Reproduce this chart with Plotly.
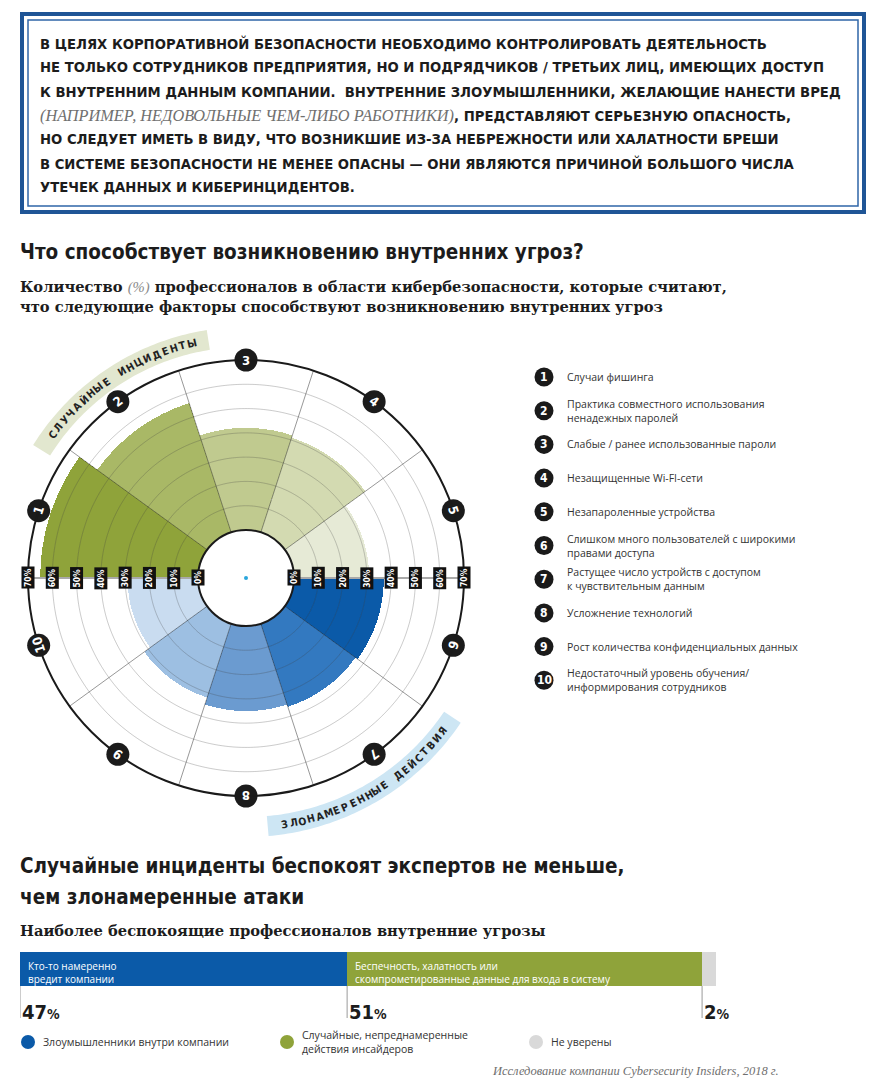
import numpy as np
import plotly.graph_objects as go

# page has an 8px body margin, so the figure is shifted by OFF px
OFF = 8
W, H = 874 - OFF, 1080 - OFF


def X(px):
    return (px - OFF) / W


def Y(py):
    return 1 - (py - OFF) / H


# ---------------- data ----------------
factor_ids = [1, 2, 3, 4, 5, 6, 7, 8, 9, 10]
factor_values = [65, 56, 42, 41, 31, 37, 36, 35, 32, 29]
factor_labels = [
    "Случаи фишинга",
    "Практика совместного использования<br>ненадежных паролей",
    "Слабые / ранее использованные пароли",
    "Незащищенные Wi-FI-сети",
    "Незапароленные устройства",
    "Слишком много пользователей с широкими<br>правами доступа",
    "Растущее число устройств с доступом<br>к чувствительным данным",
    "Усложнение технологий",
    "Рост количества конфиденциальных данных",
    "Недостаточный уровень обучения/<br>информирования сотрудников",
]
factor_colors = ["#8fa33a", "#a9b866", "#c0ca8f", "#d3dab1", "#e6ead6",
                 "#0b5aa8", "#3379c0", "#6b9bd0", "#9dbfe2", "#c9dcf0"]
tick_values = [0, 10, 20, 30, 40, 50, 60, 70]

threat_names = ["Злоумышленники внутри компании",
                "Случайные, непреднамеренные<br>действия инсайдеров",
                "Не уверены"]
threat_values = [47, 51, 2]
threat_bar_text = ["Кто-то намеренно<br>вредит компании",
                   "Беспечность, халатность или<br>скомпрометированные данные для входа в систему",
                   ""]
threat_colors = ["#0b5aa8", "#8fa33a", "#d9d9d9"]

box_lines = [
    "В ЦЕЛЯХ КОРПОРАТИВНОЙ БЕЗОПАСНОСТИ НЕОБХОДИМО КОНТРОЛИРОВАТЬ ДЕЯТЕЛЬНОСТЬ",
    "НЕ ТОЛЬКО СОТРУДНИКОВ ПРЕДПРИЯТИЯ, НО И ПОДРЯДЧИКОВ / ТРЕТЬИХ ЛИЦ, ИМЕЮЩИХ ДОСТУП",
    "К ВНУТРЕННИМ ДАННЫМ КОМПАНИИ.  ВНУТРЕННИЕ ЗЛОУМЫШЛЕННИКИ, ЖЕЛАЮЩИЕ НАНЕСТИ ВРЕД",
    "§(НАПРИМЕР, НЕДОВОЛЬНЫЕ ЧЕМ-ЛИБО РАБОТНИКИ)§, ПРЕДСТАВЛЯЮТ СЕРЬЕЗНУЮ ОПАСНОСТЬ,",
    "НО СЛЕДУЕТ ИМЕТЬ В ВИДУ, ЧТО ВОЗНИКШИЕ ИЗ-ЗА НЕБРЕЖНОСТИ ИЛИ ХАЛАТНОСТИ БРЕШИ",
    "В СИСТЕМЕ БЕЗОПАСНОСТИ НЕ МЕНЕЕ ОПАСНЫ — ОНИ ЯВЛЯЮТСЯ ПРИЧИНОЙ БОЛЬШОГО ЧИСЛА",
    "УТЕЧЕК ДАННЫХ И КИБЕРИНЦИДЕНТОВ.",
]
title1 = "Что способствует возникновению внутренних угроз?"
subtitle1 = ["Количество §(%)§ профессионалов в области кибербезопасности, которые считают,",
             "что следующие факторы способствуют возникновению внутренних угроз"]
title2 = ["Случайные инциденты беспокоят экспертов не меньше,", "чем злонамеренные атаки"]
subtitle2 = "Наиболее беспокоящие профессионалов внутренние угрозы"
arc_label_top = "СЛУЧАЙНЫЕ ИНЦИДЕНТЫ"
arc_label_bottom = "ЗЛОНАМЕРЕННЫЕ ДЕЙСТВИЯ"
source_text = "Исследование компании Cybersecurity Insiders, 2018 г."

# ---------------- styling ----------------
COND = "DejaVu Sans Condensed, Liberation Sans Narrow, sans-serif"
SERIF = "DejaVu Serif, Liberation Serif, serif"
ISERIF = "Liberation Serif, DejaVu Serif, serif"
SANS = "Open Sans, Noto Sans, sans-serif"
INK = "#1c1c1c"

cx, cy, R, HOLE = 246, 578, 218, 48
RMAX = 70
thetas = [162 - 36 * i for i in range(10)]

fig = go.Figure()
annotations = []
shapes = []


def ann(px, py, text, font, xanchor="left", yanchor="middle", **kw):
    d = dict(x=X(px), y=Y(py), xref="paper", yref="paper", showarrow=False,
             text=text, font=font, xanchor=xanchor, yanchor=yanchor)
    d.update(kw)
    annotations.append(d)


def circle(px, py, r, color):
    shapes.append(dict(type="circle", xref="paper", yref="paper",
                       x0=X(px - r), x1=X(px + r), y0=Y(py + r), y1=Y(py - r),
                       fillcolor=color, line=dict(width=0)))


# ---------------- polar chart ----------------
fig.add_trace(go.Barpolar(
    r=factor_values, theta=thetas, width=[36] * 10,
    marker=dict(color=factor_colors, line=dict(width=0)),
    subplot="polar", hoverinfo="skip", showlegend=False))

ring = np.linspace(0, 360, 721)
for v in tick_values[1:-1]:
    fig.add_trace(go.Scatterpolar(
        r=[v] * len(ring), theta=ring, mode="lines",
        line=dict(color="rgba(70,70,70,0.28)", width=1),
        subplot="polar", hoverinfo="skip", showlegend=False))
for a in [36, 72, 108, 144, -36, -72, -108, -144]:
    fig.add_trace(go.Scatterpolar(
        r=[0, RMAX], theta=[a, a], mode="lines",
        line=dict(color="rgba(50,50,50,0.5)", width=1),
        subplot="polar", hoverinfo="skip", showlegend=False))
for a in [0, 180]:
    fig.add_trace(go.Scatterpolar(
        r=[0, RMAX], theta=[a, a], mode="lines",
        line=dict(color="#a9a9a9", width=2),
        subplot="polar", hoverinfo="skip", showlegend=False))
fig.add_trace(go.Scatterpolar(
    r=[RMAX] * 10, theta=thetas, mode="markers",
    marker=dict(size=23, color="#1b1b1b"), cliponaxis=False,
    subplot="polar", hoverinfo="skip", showlegend=False))

# numbers on the outer ring
for i, th in enumerate(thetas):
    rad = np.deg2rad(th)
    px, py = cx + R * np.cos(rad), cy - R * np.sin(rad)
    ang = 90 - th
    if ang > 180:
        ang -= 360
    ann(px, py, "<b>%d</b>" % factor_ids[i],
        dict(family=COND, size=13, color="white"), xanchor="center", textangle=ang)

# tick labels along horizontal axis
for v in tick_values:
    for side in (-1, 1):
        px = cx + side * (HOLE + v / RMAX * (R - HOLE))
        ann(px, cy, "<b>%d%%</b>" % v, dict(family=COND, size=8.5, color="white"),
            xanchor="center", textangle=-90, bgcolor="#111111", borderpad=1)

# centre dot
circle(cx, cy, 2, "#2aa6dc")


# curved labels
def band(a0, a1, rc, thick, color):
    outer = [(cx + (rc + thick / 2) * np.cos(np.deg2rad(a)),
              cy - (rc + thick / 2) * np.sin(np.deg2rad(a))) for a in np.linspace(a0, a1, 60)]
    inner = [(cx + (rc - thick / 2) * np.cos(np.deg2rad(a)),
              cy - (rc - thick / 2) * np.sin(np.deg2rad(a))) for a in np.linspace(a1, a0, 60)]
    pts = outer + inner
    path = "M " + " L ".join("%.5f,%.5f" % (X(p[0]), Y(p[1])) for p in pts) + " Z"
    shapes.append(dict(type="path", path=path, xref="paper", yref="paper",
                       fillcolor=color, line=dict(width=0), layer="below"))


def arc_text(txt, a0, a1, rc, top):
    n = len(txt)
    for i, ch in enumerate(txt):
        if ch == " ":
            continue
        a = a0 + (a1 - a0) * i / (n - 1)
        rad = np.deg2rad(a)
        px, py = cx + rc * np.cos(rad), cy - rc * np.sin(rad)
        ang = (90 - a) if top else -(a + 90)
        ann(px, py, "<b>%s</b>" % ch, dict(family=COND, size=10.5, color="#222222"),
            xanchor="center", textangle=ang)


band(148, 99, 241, 20, "#e2e7cf")
arc_text(arc_label_top, 143.5, 103, 241, True)
band(-85, -34, 249, 20, "#cde6f4")
arc_text(arc_label_bottom, -81, -38, 249, False)

# ---------------- right legend ----------------
for i in range(10):
    ly = 377 + i * 33.7
    circle(544, ly, 9.5, "#1a1a1a")
    ann(544, ly, "<b>%d</b>" % factor_ids[i], dict(family=COND, size=12, color="white"),
        xanchor="center")
    ann(565, ly, factor_labels[i], dict(family=SANS, size=10.5, color="#333333"), align="left")

# ---------------- top box ----------------
shapes.append(dict(type="rect", xref="paper", yref="paper",
                   x0=X(22), x1=X(864), y0=Y(212), y1=Y(14),
                   line=dict(color="#1f5596", width=4), fillcolor="white", layer="below"))
shapes.append(dict(type="rect", xref="paper", yref="paper",
                   x0=X(28), x1=X(858), y0=Y(206), y1=Y(20),
                   line=dict(color="#2f66a8", width=1.5)))
for k, ln in enumerate(box_lines):
    parts = ln.split("§")
    html = ""
    for j, p in enumerate(parts):
        if j % 2 == 1:
            html += ("<span style='font-family:Liberation Serif;font-style:italic;"
                     "font-size:16.3px;color:#707070'>%s</span>" % p)
        elif p:
            html += "<b>%s</b>" % p
    ann(38, 43 + 24 * k, html, dict(family=COND, size=14.7, color=INK))

# ---------------- titles ----------------
ann(18, 252, "<b>%s</b>" % title1, dict(family=COND, size=20.5, color=INK))
for k, ln in enumerate(subtitle1):
    parts = ln.split("§")
    html = ""
    for j, p in enumerate(parts):
        if j % 2 == 1:
            html += ("<span style='font-family:Liberation Serif;font-style:italic;"
                     "font-weight:normal;color:#8a8a8a'>%s</span>" % p)
        elif p:
            html += "<b>%s</b>" % p
    ann(18, 287 + 19 * k, html, dict(family=SERIF, size=14.7, color=INK))
for k, ln in enumerate(title2):
    ann(18, 866 + 31 * k, "<b>%s</b>" % ln, dict(family=COND, size=20.5, color=INK))
ann(18, 930, "<b>%s</b>" % subtitle2, dict(family=SERIF, size=14.7, color=INK))

# ---------------- stacked bar ----------------
starts = np.concatenate([[0], np.cumsum(threat_values)[:-1]])
for i, v in enumerate(threat_values):
    fig.add_trace(go.Bar(x=[v], y=[0], orientation="h",
                         marker=dict(color=threat_colors[i], line=dict(width=0)),
                         xaxis="x", yaxis="y", hoverinfo="skip", showlegend=False))
    shapes.append(dict(type="line", xref="x", yref="paper", x0=starts[i], x1=starts[i],
                       y0=Y(1018), y1=Y(986), line=dict(color="#9a9a9a", width=1)))
    if threat_bar_text[i]:
        annotations.append(dict(x=starts[i], xshift=6, y=Y(972), xref="x", yref="paper",
                                xanchor="left", yanchor="middle", align="left",
                                showarrow=False, text=threat_bar_text[i],
                                font=dict(family=SANS, size=10, color="white")))
    annotations.append(dict(x=starts[i], xshift=0, y=Y(1012), xref="x", yref="paper",
                            xanchor="left", yanchor="middle", showarrow=False,
                            text="<b>%d<span style='font-size:14px'>%%</span></b>" % v,
                            font=dict(family=COND, size=20, color=INK)))

# bottom legend
leg_x = [28, 287, 536]
for i in range(3):
    circle(leg_x[i], 1042, 7, threat_colors[i])
    ann(leg_x[i] + 13, 1042, threat_names[i], dict(family=SANS, size=10.5, color="#333333"),
        align="left")

ann(781, 1071, "<i>%s</i>" % source_text, dict(family=ISERIF, size=12.5, color="#6f6f6f"),
    xanchor="right")

fig.update_layout(
    width=W, height=H, margin=dict(l=0, r=0, t=0, b=0),
    paper_bgcolor="white", plot_bgcolor="white",
    barmode="stack", bargap=0,
    xaxis=dict(domain=[X(20), X(716)], range=[0, 100], visible=False, fixedrange=True),
    yaxis=dict(domain=[Y(986), Y(952)], range=[-0.5, 0.5], visible=False, fixedrange=True),
    polar=dict(
        domain=dict(x=[X(cx - R), X(cx + R)], y=[Y(cy + R), Y(cy - R)]),
        hole=HOLE / R, bgcolor="white",
        radialaxis=dict(range=[0, RMAX], visible=False),
        angularaxis=dict(showticklabels=False, ticks="", showgrid=False,
                         showline=True, linecolor="#1a1a1a", linewidth=2),
    ),
    annotations=annotations, shapes=shapes, showlegend=False,
)

fig.write_html("out.html")
